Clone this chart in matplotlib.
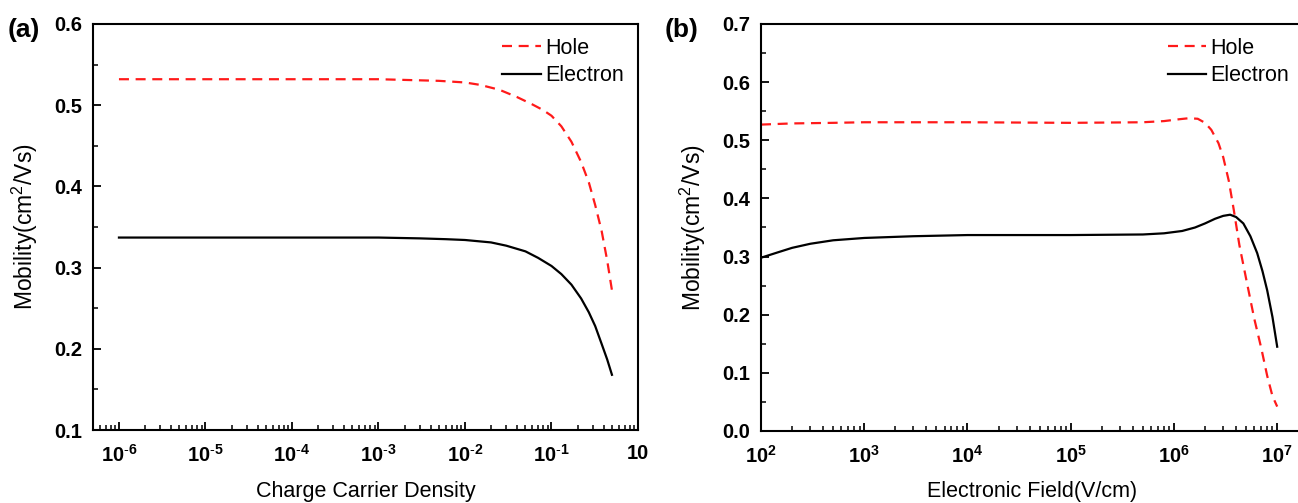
import numpy as np
import matplotlib
matplotlib.use('Agg')
import matplotlib.pyplot as plt
from matplotlib.ticker import FixedLocator, FixedFormatter, LogLocator, MultipleLocator, NullFormatter

plt.rcParams['font.family'] = ['Liberation Sans', 'DejaVu Sans']
plt.rcParams['mathtext.fontset'] = 'custom'
plt.rcParams['mathtext.rm'] = 'Liberation Sans'
plt.rcParams['mathtext.bf'] = 'Liberation Sans:bold'
plt.rcParams['mathtext.default'] = 'regular'

# (a) mobility vs charge carrier density
density_hole = [1e-6, 1e-5, 1e-4, 1e-3, 5e-3, 1e-2, 1.5e-2, 2.5e-2, 4e-2, 6e-2,
                8e-2, 0.1, 0.13, 0.17, 0.22, 0.27, 0.32, 0.38, 0.44, 0.5]
mob_hole_a = [0.532, 0.532, 0.532, 0.532, 0.530, 0.528, 0.525, 0.519, 0.510, 0.501,
              0.494, 0.487, 0.474, 0.455, 0.430, 0.405, 0.377, 0.345, 0.309, 0.272]
density_elec = [1e-6, 1e-5, 1e-4, 1e-3, 3e-3, 6e-3, 1e-2, 2e-2, 3e-2, 5e-2,
                7e-2, 0.1, 0.13, 0.17, 0.22, 0.27, 0.32, 0.38, 0.44, 0.5]
mob_elec_a = [0.337, 0.337, 0.337, 0.337, 0.336, 0.335, 0.334, 0.331, 0.327, 0.320,
              0.312, 0.302, 0.292, 0.279, 0.262, 0.245, 0.228, 0.206, 0.187, 0.168]

# (b) mobility vs electric field
field_hole = [1e2, 2e2, 5e2, 1e3, 1e4, 1e5, 5e5, 8e5, 1.1e6, 1.4e6, 1.7e6, 2e6,
              2.3e6, 2.7e6, 3e6, 3.4e6, 3.8e6, 4.3e6, 5e6, 6e6, 7e6, 8e6, 9e6, 1e7]
mob_hole_b = [0.527, 0.529, 0.530, 0.531, 0.531, 0.530, 0.531, 0.533, 0.536, 0.538, 0.537, 0.530,
              0.518, 0.495, 0.471, 0.430, 0.380, 0.320, 0.262, 0.193, 0.143, 0.095, 0.060, 0.042]
field_elec = [1e2, 1.5e2, 2e2, 3e2, 5e2, 1e3, 3e3, 1e4, 1e5, 5e5, 8e5, 1.2e6, 1.6e6,
              2e6, 2.5e6, 3e6, 3.5e6, 4e6, 4.7e6, 5.5e6, 6.4e6, 7.2e6, 8e6, 9e6, 1e7]
mob_elec_b = [0.298, 0.308, 0.315, 0.322, 0.328, 0.332, 0.335, 0.337, 0.337, 0.338, 0.340, 0.344, 0.350,
              0.357, 0.365, 0.370, 0.372, 0.368, 0.357, 0.335, 0.306, 0.275, 0.242, 0.196, 0.145]

xticks_a = [1e-6, 1e-5, 1e-4, 1e-3, 1e-2, 1e-1, 1e0]
xlabels_a = [r'$\mathbf{10^{\text{-}6}}$', r'$\mathbf{10^{\text{-}5}}$', r'$\mathbf{10^{\text{-}4}}$',
             r'$\mathbf{10^{\text{-}3}}$', r'$\mathbf{10^{\text{-}2}}$', r'$\mathbf{10^{\text{-}1}}$', '10']
xticks_b = [1e2, 1e3, 1e4, 1e5, 1e6, 1e7]
xlabels_b = [r'$\mathbf{10^{2}}$', r'$\mathbf{10^{3}}$', r'$\mathbf{10^{4}}$', r'$\mathbf{10^{5}}$',
             r'$\mathbf{10^{6}}$', r'$\mathbf{10^{7}}$']

W, H = 1298, 503
fig = plt.figure(figsize=(W / 100, H / 100), dpi=100)
ax1 = fig.add_axes([93 / W, (H - 430) / H, 545 / W, 406 / H])
ax2 = fig.add_axes([761 / W, (H - 431) / H, 542 / W, 407 / H])

red_dash = dict(color='#ff1a1a', lw=1.6, dashes=(4.5, 3))
black = dict(color='black', lw=1.6)

ax1.plot(density_hole, mob_hole_a, label='Hole', **red_dash)
ax1.plot(density_elec, mob_elec_a, label='Electron', **black)
ax2.plot(field_hole, mob_hole_b, label='Hole', **red_dash)
ax2.plot(field_elec, mob_elec_b, label='Electron', **black)

ax1.set_xscale('log')
ax1.set_xlim(10 ** -6.3, 1)
ax1.set_ylim(0.1, 0.6)
ax2.set_xscale('log')
ax2.set_xlim(1e2, 10 ** 7.25)
ax2.set_ylim(0.0, 0.7)

for ax, ticks, labels in [(ax1, xticks_a, xlabels_a), (ax2, xticks_b, xlabels_b)]:
    ax.xaxis.set_major_locator(FixedLocator(ticks))
    ax.xaxis.set_major_formatter(FixedFormatter(labels))
    ax.xaxis.set_minor_locator(LogLocator(base=10, subs=np.arange(2, 10), numticks=20))
    ax.xaxis.set_minor_formatter(NullFormatter())
    ax.yaxis.set_major_locator(MultipleLocator(0.1))
    ax.yaxis.set_minor_locator(MultipleLocator(0.05))
    ax.yaxis.set_major_formatter(plt.FormatStrFormatter('%.1f'))
    ax.tick_params(which='major', direction='in', length=6, width=1.3, labelsize=14.5)
    ax.tick_params(which='minor', direction='in', length=3.5, width=1.1)
    ax.tick_params(axis='y', which='major', pad=8)
    ax.tick_params(axis='x', which='major', pad=10)
    for lab in ax.get_yticklabels() + ax.get_xticklabels():
        lab.set_fontweight('bold')
    for sp in ax.spines.values():
        sp.set_linewidth(1.5)
    ax.set_ylabel('Mobility(cm$^2$/Vs)', fontsize=16.5)
    ax.yaxis.set_label_coords(-0.098, 0.5)
    ax.legend(loc='upper left', bbox_to_anchor=(0.75, 0.966), frameon=False, fontsize=15.5,
              handlelength=1.8, handletextpad=0.2, labelspacing=0.3, borderpad=0, borderaxespad=0)

ax1.set_xlabel('Charge Carrier Density', fontsize=15.5)
ax1.xaxis.set_label_coords(0.5, -0.125)
ax2.set_xlabel('Electronic Field(V/cm)', fontsize=15.5)
ax2.xaxis.set_label_coords(0.5, -0.122)

fig.text(8 / W, 1 - 30 / H, '(a)', fontsize=19, fontweight='bold', va='center')
fig.text(665 / W, 1 - 30 / H, '(b)', fontsize=19, fontweight='bold', va='center')

fig.savefig('out.png', dpi=100)
